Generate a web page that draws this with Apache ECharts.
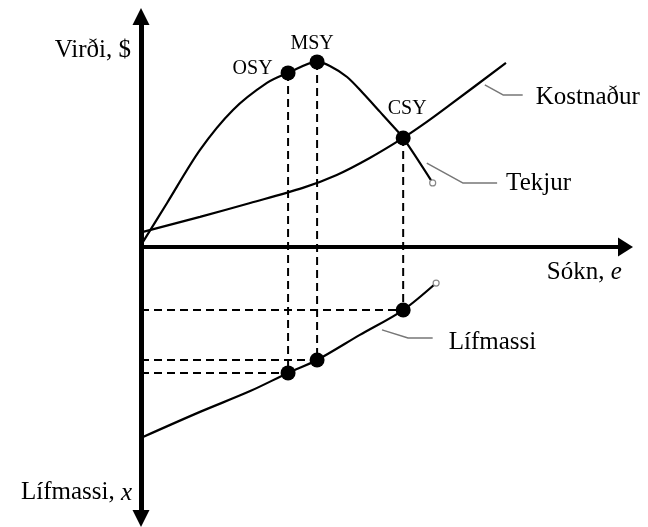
<!DOCTYPE html>
<html>
<head>
<meta charset="utf-8">
<script src="https://cdn.jsdelivr.net/npm/echarts@6/dist/echarts.min.js"></script>
<style>
html,body{margin:0;padding:0;background:#fff}
#main{width:648px;height:527px}
</style>
</head>
<body>
<div id="main"></div>
<script>
// effort on x, value upwards, biomass downwards
var revenue = [[0.4,2.1],[5.3,18.4],[12.0,40.6],[18.7,57.3],[25.6,68.6],[29.9,72.8],[35.8,77.4],[38.4,75.7],[41.9,71.1],[45.1,64.4],[48.6,56.5],[51.2,50.6],[53.3,45.6],[59.3,26.8]];
var cost = [[0.4,6.3],[12.0,12.6],[22.2,18.4],[32.9,24.7],[39.8,30.1],[46.5,37.2],[53.3,45.6],[58.1,52.3],[62.8,59.4],[74.2,77.0]];
var biomass = [[0.4,-79.5],[12.0,-69.0],[22.2,-60.3],[29.9,-52.7],[35.8,-47.3],[44.5,-36.8],[53.3,-26.4],[60.0,-15.1]];

var yieldNames = ['OSY', 'MSY', 'CSY'];
var yieldEffort = [29.9, 35.8, 53.3];
var yieldValue = [72.8, 77.4, 45.6];
var yieldBiomass = [-52.7, -47.3, -26.4];

var costLeader = [[69.9,67.8],[73.6,63.6],[77.6,63.6]];
var revenueLeader = [[58.1,35.1],[65.4,26.8],[72.4,26.8]];
var biomassLeader = [[49.0,-34.7],[54.3,-38.1],[59.3,-38.1]];
var curveEnds = [[59.3,26.8],[60.0,-15.1]];

var FONT = "'Liberation Serif','Times New Roman',serif";

var series = [];

// dashed guides
for (var i = 0; i < yieldEffort.length; i++) {
    var x = yieldEffort[i];
    series.push({
        type: 'line', silent: true, showSymbol: false, z: 1,
        data: [[x, yieldValue[i]], [x, yieldBiomass[i]]],
        lineStyle: {color: '#000', width: 2, type: [8, 5]}
    });
    series.push({
        type: 'line', silent: true, showSymbol: false, z: 1,
        data: [[0, yieldBiomass[i]], [x, yieldBiomass[i]]],
        lineStyle: {color: '#000', width: 2, type: [8, 5]}
    });
}

function curve(data) {
    return {
        type: 'line', smooth: 0.3, showSymbol: false, silent: true, z: 3,
        data: data,
        lineStyle: {color: '#000', width: 2.2}
    };
}
series.push(curve(revenue));
series.push(curve(cost));
series.push(curve(biomass));

function leader(data, text, dist, dy) {
    return {
        type: 'line', showSymbol: false, silent: true, z: 3,
        data: data,
        lineStyle: {color: '#777', width: 1.5},
        endLabel: {
            show: true, formatter: text, distance: dist, offset: [0, dy],
            color: '#000', fontFamily: FONT, fontSize: 25
        }
    };
}
series.push(leader(costLeader, 'Kostnaður', 13, 3));
series.push(leader(revenueLeader, 'Tekjur', 9, 1));
series.push(leader(biomassLeader, 'Lífmassi', 16, 4));

// open circles at curve ends
series.push({
    type: 'scatter', silent: true, z: 4,
    symbol: 'circle', symbolSize: 6,
    itemStyle: {color: '#fff', borderColor: '#888', borderWidth: 1.2, opacity: 1},
    data: curveEnds
});

// yield points
var labelPlace = [
    {position: 'left', distance: 8, offset: [0, -4]},
    {position: 'top', distance: 1, offset: [-5, 0]},
    {position: 'top', distance: 12, offset: [4, 0]}
];
var topDots = [], lowDots = [];
for (var j = 0; j < yieldEffort.length; j++) {
    topDots.push({
        value: [yieldEffort[j], yieldValue[j]],
        label: Object.assign({show: true, formatter: yieldNames[j]}, labelPlace[j])
    });
    lowDots.push([yieldEffort[j], yieldBiomass[j]]);
}
series.push({
    type: 'scatter', silent: true, z: 5, symbolSize: 15,
    itemStyle: {color: '#000', opacity: 1},
    label: {color: '#000', fontFamily: FONT, fontSize: 20},
    data: topDots
});
series.push({
    type: 'scatter', silent: true, z: 5, symbolSize: 15,
    itemStyle: {color: '#000', opacity: 1},
    data: lowDots
});

// axis titles
var it = {fontStyle: 'italic', fontFamily: FONT, fontSize: 25, color: '#000'};
series.push({
    type: 'scatter', silent: true, z: 5, symbolSize: 0, clip: false,
    itemStyle: {opacity: 1},
    label: {show: true, color: '#000', fontFamily: FONT, fontSize: 25, rich: {it: it}},
    data: [
        {value: [0, 82.2], label: {position: 'left', distance: 10, formatter: 'Virði, $'}},
        {value: [82.5, -10.5], label: {position: 'right', distance: 0, formatter: 'Sókn, {it|e}'}},
        {value: [0, -102.9], label: {position: 'left', distance: 9, formatter: 'Lífmassi, {it|x}'}}
    ]
});

var chart = echarts.init(document.getElementById('main'));
chart.setOption({
    animation: false,
    backgroundColor: '#fff',
    grid: {left: 141, right: 22.5, top: 16.5, bottom: 8.5, outerBoundsMode: 'none'},
    xAxis: {
        type: 'value', min: 0, max: 98.5,
        axisLine: {show: true, onZero: true, symbol: ['none', 'triangle'], symbolSize: [19, 15],
            lineStyle: {color: '#000', width: 4}},
        axisTick: {show: false}, axisLabel: {show: false}, splitLine: {show: false}
    },
    yAxis: {
        type: 'value', min: -113.6, max: 96.4,
        axisLine: {show: true, symbol: ['triangle', 'triangle'], symbolSize: [17, 17],
            lineStyle: {color: '#000', width: 5}},
        axisTick: {show: false}, axisLabel: {show: false}, splitLine: {show: false}
    },
    series: series
});
</script>
</body>
</html>
